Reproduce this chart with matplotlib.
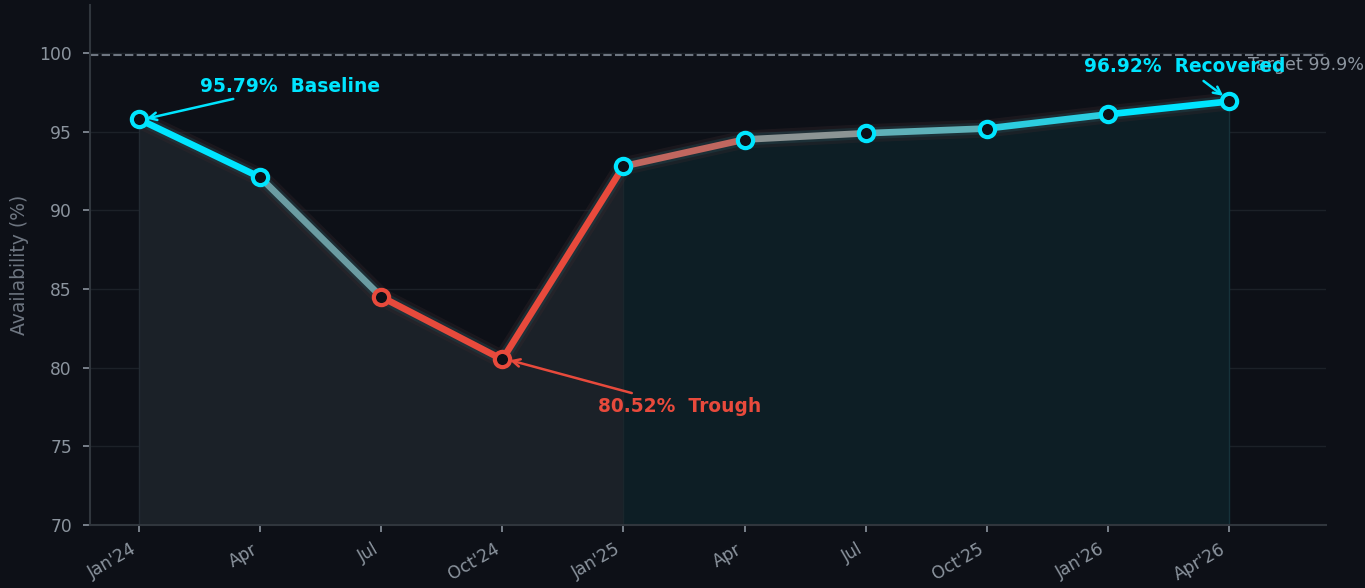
import matplotlib
matplotlib.use("Agg")
import matplotlib.pyplot as plt
import numpy as np

# ---- data ----
quarters = ["Jan'24", "Apr", "Jul", "Oct'24", "Jan'25", "Apr", "Jul", "Oct'25", "Jan'26", "Apr'26"]
availability = [95.79, 92.1, 84.5, 80.52, 92.8, 94.5, 94.9, 95.2, 96.1, 96.92]
segment_colors = ["#00e5ff", "#6b9ca2", "#e84a3c", "#e84a3c", "#c0675f",
                  "#8c9494", "#5fb0b8", "#2ccde0", "#00e5ff"]
marker_edges = ["#00e5ff", "#00e5ff", "#e84a3c", "#e84a3c", "#00e5ff",
                "#00e5ff", "#00e5ff", "#00e5ff", "#00e5ff", "#00e5ff"]
target = 99.9
split_idx = 4  # Jan'25 starts recovery zone

BG = "#0d1017"
GRID = "#1c2128"
SPINE = "#30363d"
TICK = "#8b949e"

fig = plt.figure(figsize=(13.65, 5.88), dpi=100, facecolor=BG)
ax = fig.add_axes([0.0659, 0.1071, 0.9055, 0.8844])
ax.set_facecolor(BG)

x = np.arange(len(availability))
y = np.array(availability)

# fills
ax.fill_between(x[:split_idx + 1], y[:split_idx + 1], 70, color="#1b2128", zorder=1, lw=0)
ax.fill_between(x[split_idx:], y[split_idx:], 70, color="#0d1e25", zorder=1, lw=0)
ax.plot([x[0], x[0]], [70, y[0]], color="#232b33", lw=1, zorder=1)
ax.plot([x[split_idx], x[split_idx]], [70, y[split_idx]], color="#1a262c", lw=1, zorder=1)
ax.plot([x[-1], x[-1]], [70, y[-1]], color="#16323a", lw=1, zorder=1)

# glow
ax.plot(x, y, color="#3a2a2e", lw=13, alpha=0.3, zorder=2, solid_capstyle="round")
ax.plot(x, y, color="#1f4048", lw=8.5, alpha=0.5, zorder=2, solid_capstyle="round")

# segments
for i in range(len(y) - 1):
    ax.plot(x[i:i + 2], y[i:i + 2], color=segment_colors[i], lw=4.8,
            solid_capstyle="round", zorder=3)

# markers
for i in range(len(y)):
    ax.plot(x[i], y[i], marker="o", ms=11, mfc=BG, mec=marker_edges[i], mew=3, zorder=4)

# target line
ax.axhline(target, color="#6e7681", lw=1.5, ls=(0, (4, 1.6)), zorder=2)
ax.text(9.157, target - 0.1, f"Target {target}%", color="#8b949e", fontsize=12.6,
        ha="left", va="top", zorder=5, clip_on=False)

# annotations
ax.annotate(f"{availability[0]:.2f}%  Baseline", xy=(x[0] + 0.04, y[0]), xytext=(1.247, 97.9),
            color="#00e5ff", fontsize=13.4, fontweight="bold", ha="center", va="center",
            arrowprops=dict(arrowstyle="->", color="#00e5ff", lw=1.8), zorder=6)
ax.annotate(f"{availability[3]:.2f}%  Trough", xy=(x[3] + 0.04, y[3]), xytext=(4.467, 77.56),
            color="#e84a3c", fontsize=13.4, fontweight="bold", ha="center", va="center",
            arrowprops=dict(arrowstyle="->", color="#e84a3c", lw=1.8), zorder=6)
ax.annotate(f"{availability[-1]:.2f}%  Recovered", xy=(x[-1] - 0.03, y[-1] + 0.25), xytext=(8.637, 99.11),
            color="#00e5ff", fontsize=13.4, fontweight="bold", ha="center", va="center",
            arrowprops=dict(arrowstyle="->", color="#00e5ff", lw=1.8), zorder=6)

# axes styling
ax.set_xlim(-0.405, 9.80)
ax.set_ylim(70, 103.05)
ax.set_yticks([70, 75, 80, 85, 90, 95, 100])
ax.set_xticks(x)
ax.set_xticklabels(quarters, rotation=30, ha="right")
ax.tick_params(colors=TICK, labelsize=12.3, length=5, width=1.2)
ax.tick_params(axis="y", pad=8)
ax.tick_params(axis="x", pad=6)
for s in ["top", "right"]:
    ax.spines[s].set_visible(False)
for s in ["left", "bottom"]:
    ax.spines[s].set_color(SPINE)
    ax.spines[s].set_linewidth(1.5)
ax.grid(axis="y", color=GRID, lw=1, zorder=0)
ax.set_axisbelow(True)
ax.set_ylabel("Availability (%)", color="#6e7681", fontsize=13.5, labelpad=7)

fig.savefig("out.png", dpi=100, facecolor=BG)
